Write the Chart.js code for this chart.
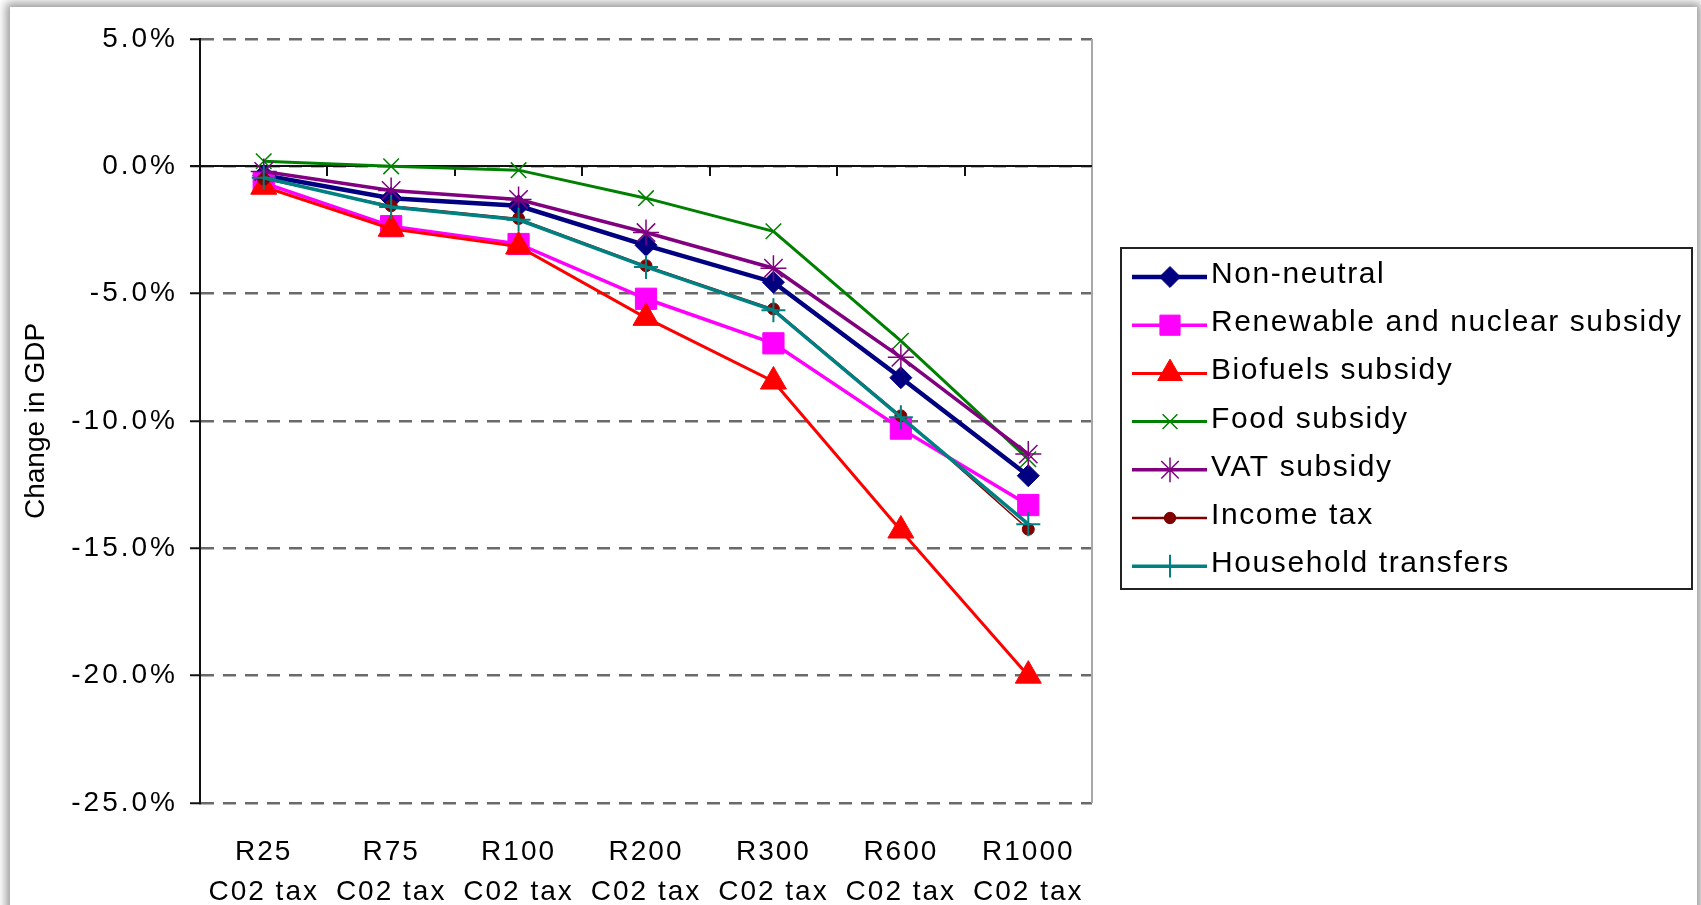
<!DOCTYPE html>
<html>
<head>
<meta charset="utf-8">
<script src="https://cdn.jsdelivr.net/npm/chart.js@4.4.1/dist/chart.umd.min.js"></script>
<style>
  html, body { margin: 0; padding: 0; background: #fff; width: 1701px; height: 905px; overflow: hidden; }
  #card { position: absolute; left: 10px; top: 7px; width: 1687px; height: 960px; background: #fff;
          box-shadow: 0 0 9px 4px rgba(0,0,0,0.4); }
  #wrap { position: absolute; left: 0; top: 0; width: 1701px; height: 905px; }
</style>
</head>
<body>
<div id="card"></div>
<div id="wrap"><canvas id="c" width="1701" height="905"></canvas></div>
<script>
// Carbon tax levels (rand per tonne CO2)
const prices   = ['R25', 'R75', 'R100', 'R200', 'R300', 'R600', 'R1000'];
const taxLabel = 'C02 tax';

// Change in GDP (%) for each revenue-recycling scheme
const nonNeutral        = [-0.35, -1.25, -1.55, -3.1,  -4.55, -8.3,  -12.15];
const renewableNuclear  = [-0.65, -2.35, -3.05, -5.2,  -6.95, -10.3, -13.3];
const biofuelsSubsidy   = [-0.8,  -2.45, -3.15, -5.95, -8.45, -14.3, -20.0];
const foodSubsidy       = [ 0.2,   0.0,  -0.15, -1.25, -2.55, -6.85, -11.5];
const vatSubsidy        = [-0.2,  -0.95, -1.3,  -2.6,  -4.0,  -7.5,  -11.3];
const incomeTax         = [-0.5,  -1.55, -2.05, -3.9,  -5.6,  -9.8,  -14.25];
const householdTransfer = [-0.45, -1.6,  -2.1,  -3.95, -5.65, -9.85, -14.05];

const seriesNames = ['Non-neutral', 'Renewable and nuclear subsidy', 'Biofuels subsidy',
                     'Food subsidy', 'VAT subsidy', 'Income tax', 'Household transfers'];
const seriesData  = [nonNeutral, renewableNuclear, biofuelsSubsidy, foodSubsidy,
                     vatSubsidy, incomeTax, householdTransfer];

// Y axis range (%)
const Y_MIN = -25, Y_MAX = 5, Y_STEP = 5;

// Line and marker styling per series
const seriesStyle = [
  { color: '#000080', width: 4.5, marker: 'rectRot',  radius: 11, markerLine: 1 },
  { color: '#FF00FF', width: 3.5, marker: 'rect',     radius: 15, markerLine: 1 },
  { color: '#FF0000', width: 3,   marker: 'triangle', radius: 15, markerLine: 1 },
  { color: '#008000', width: 3,   marker: 'crossRot', radius: 11, markerLine: 1.5 },
  { color: '#800080', width: 3.5, marker: 'star',     radius: 13, markerLine: 1.5 },
  { color: '#800000', width: 1.5, marker: 'circle',   radius: 6,  markerLine: 1 },
  { color: '#008080', width: 3.5, marker: 'cross',    radius: 12, markerLine: 2 }
];

const FONT = "'Liberation Sans', Arial, sans-serif";
const LABEL_SPACING = { x: '2px', y: '3px' };

const datasets = seriesNames.map((name, i) => {
  const s = seriesStyle[i];
  return {
    label: name,
    data: seriesData[i],
    borderColor: s.color,
    backgroundColor: s.color,
    borderWidth: s.width,
    pointStyle: s.marker,
    pointRadius: s.radius,
    pointBorderWidth: s.markerLine,
    pointBackgroundColor: s.color,
    pointBorderColor: s.color,
    tension: 0,
    order: seriesNames.length - i   // later series drawn on top
  };
});

// Tick labels with wider letter spacing
const labelSpacingPlugin = {
  id: 'labelSpacing',
  beforeDraw(chart) {
    Object.values(chart.scales).forEach(scale => {
      if (scale._spacedLabels) return;
      const original = scale.drawLabels;
      scale.drawLabels = function (area) {
        const ctx = this.ctx;
        ctx.save();
        ctx.letterSpacing = LABEL_SPACING[this.id] || '0px';
        original.call(this, area);
        ctx.restore();
      };
      scale._spacedLabels = true;
    });
  }
};

// Solid zero axis with category tick marks, plus right plot border
const zeroAxisPlugin = {
  id: 'zeroAxis',
  beforeDatasetsDraw(chart) {
    const { ctx, chartArea: a, scales: { x, y } } = chart;
    const y0 = Math.round(y.getPixelForValue(0));
    ctx.save();
    ctx.strokeStyle = '#a8a8a8';
    ctx.lineWidth = 2;
    ctx.beginPath();
    ctx.moveTo(a.right, a.top);
    ctx.lineTo(a.right, a.bottom);
    ctx.stroke();

    ctx.strokeStyle = '#111';
    ctx.lineWidth = 2;
    ctx.beginPath();
    ctx.moveTo(a.left - 10, y0);
    ctx.lineTo(a.right, y0);
    const half = (x.getPixelForValue(1) - x.getPixelForValue(0)) / 2;
    for (let i = 0; i < prices.length - 1; i++) {
      const px = Math.round(x.getPixelForValue(i) + half);
      ctx.moveTo(px, y0);
      ctx.lineTo(px, y0 + 10);
    }
    ctx.stroke();
    ctx.restore();
  }
};

// Boxed legend with line-and-marker samples
const boxedLegendPlugin = {
  id: 'boxedLegend',
  afterDraw(chart) {
    const ctx = chart.ctx;
    const box = { left: 1121, top: 248, right: 1692, bottom: 589 };
    const firstRow = 277, rowGap = 48.2;
    ctx.save();
    ctx.fillStyle = '#fff';
    ctx.fillRect(box.left, box.top, box.right - box.left, box.bottom - box.top);
    ctx.strokeStyle = '#222';
    ctx.lineWidth = 2;
    ctx.strokeRect(box.left, box.top, box.right - box.left, box.bottom - box.top);

    chart.data.datasets.forEach((ds, i) => {
      const yRow = firstRow + i * rowGap;
      ctx.strokeStyle = ds.borderColor;
      ctx.lineWidth = Math.max(ds.borderWidth, 2.5);
      ctx.beginPath();
      ctx.moveTo(1132, yRow);
      ctx.lineTo(1207, yRow);
      ctx.stroke();

      ctx.fillStyle = ds.pointBackgroundColor;
      ctx.strokeStyle = ds.pointBorderColor;
      ctx.lineWidth = ds.pointBorderWidth;
      Chart.helpers.drawPoint(ctx, {
        pointStyle: ds.pointStyle,
        radius: ds.pointRadius * 0.95,
        rotation: 0,
        borderWidth: ds.pointBorderWidth
      }, 1170, yRow);

      ctx.fillStyle = '#000';
      ctx.font = '30px ' + FONT;
      ctx.letterSpacing = '1.6px';
      ctx.textAlign = 'left';
      ctx.textBaseline = 'alphabetic';
      ctx.fillText(ds.label, 1211, yRow + 6);
      ctx.letterSpacing = '0px';
    });
    ctx.restore();
  }
};

new Chart(document.getElementById('c'), {
  type: 'line',
  data: {
    labels: prices.map(p => [p, taxLabel]),
    datasets: datasets
  },
  options: {
    responsive: false,
    animation: false,
    events: [],
    devicePixelRatio: 1,
    layout: { padding: { top: 39, right: 609, bottom: 1, left: 0 } },
    plugins: {
      legend: { display: false },
      tooltip: { enabled: false }
    },
    scales: {
      x: {
        type: 'category',
        offset: true,
        grid: { display: false },
        border: { display: false },
        ticks: {
          color: '#000',
          font: { family: FONT, size: 28, lineHeight: 1.4 },
          padding: 22,
          maxRotation: 0,
          autoSkip: false
        },
        afterFit(scale) { scale.height = 101; }
      },
      y: {
        min: Y_MIN,
        max: Y_MAX,
        grid: {
          color: '#6a6a6a',
          lineWidth: 2.5,
          drawTicks: true,
          tickLength: 10,
          tickColor: '#111',
          tickWidth: 2
        },
        border: { display: true, color: '#111', width: 2, dash: [13, 9] },
        ticks: {
          stepSize: Y_STEP,
          color: '#000',
          font: { family: FONT, size: 28 },
          padding: 12,
          callback: v => v.toFixed(1) + '%'
        },
        title: {
          display: true,
          text: 'Change in GDP',
          color: '#000',
          font: { family: FONT, size: 28 },
          padding: { top: 19, bottom: 0 }
        },
        afterFit(scale) { scale.width = 200; }
      }
    }
  },
  plugins: [labelSpacingPlugin, zeroAxisPlugin, boxedLegendPlugin]
});
</script>
</body>
</html>
